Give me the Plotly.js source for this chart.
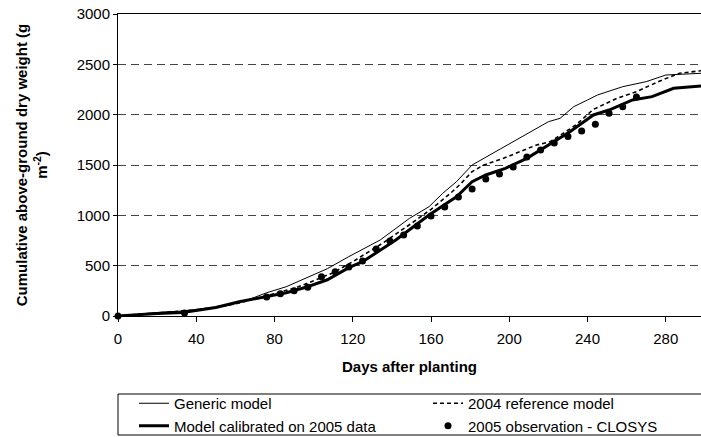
<!DOCTYPE html>
<html>
<head>
<meta charset="utf-8">
<script src="https://cdn.plot.ly/plotly-3.0.1.min.js"></script>
<style>
  html, body { margin: 0; padding: 0; background: #ffffff; }
  #chart { width: 701px; height: 437px; }
</style>
</head>
<body>
<div id="chart"></div>
<script>
// Generic model (thin line)
const genericDays = [0, 10, 20, 33, 45, 55, 65, 76, 86, 96, 107, 118, 134, 149, 159, 166, 173, 181, 190, 198, 210, 220, 226, 233, 240, 245, 258, 270, 280, 290, 298];
const genericVals = [0, 20, 35, 50, 75, 100, 150, 231, 291, 374, 470, 590, 755, 970, 1086, 1219, 1334, 1500, 1599, 1682, 1815, 1930, 1964, 2080, 2146, 2195, 2278, 2328, 2394, 2405, 2411];

// 2004 reference model (dashed line)
const refDays = [0, 20, 40, 60, 76, 90, 100, 110, 120, 135, 150, 160, 170, 175, 181, 187, 197, 207, 214, 221, 234, 243, 249, 255, 265, 277, 287, 298];
const refVals = [0, 30, 60, 120, 205, 275, 350, 430, 540, 720, 920, 1060, 1220, 1310, 1434, 1500, 1566, 1640, 1699, 1732, 1897, 2053, 2106, 2162, 2228, 2335, 2411, 2437];

// Model calibrated on 2005 data (thick line)
const calDays = [0, 10, 20, 33, 50, 62, 76, 86, 96, 107, 118, 125, 142, 159, 173, 181, 188, 198, 209, 221, 231, 243, 251, 263, 273, 284, 290, 298];
const calVals = [0, 15, 25, 35, 85, 142, 192, 231, 285, 360, 480, 539, 755, 1003, 1185, 1334, 1401, 1467, 1566, 1715, 1831, 1997, 2046, 2146, 2179, 2262, 2275, 2285];

// 2005 observation - CLOSYS (dots)
const obsDays = [0, 34, 76, 83, 90, 97, 104, 111, 118, 125, 132, 139, 146, 153, 160, 167, 174, 181, 188, 195, 202, 209, 216, 223, 230, 237, 244, 251, 258, 265];
const obsVals = [0, 30, 189, 220, 252, 285, 390, 440, 487, 546, 666, 745, 805, 894, 993, 1083, 1182, 1262, 1361, 1411, 1480, 1579, 1649, 1718, 1784, 1838, 1905, 2015, 2078, 2175];

const xTicks = [0, 40, 80, 120, 160, 200, 240, 280];
const yTicks = [0, 500, 1000, 1500, 2000, 2500, 3000];

const FONT = 'Arial, "Liberation Sans", sans-serif';

const traces = [
  { x: genericDays, y: genericVals, name: 'Generic model', type: 'scatter', mode: 'lines',
    line: { color: '#000000', width: 1 }, legend: 'legend' },
  { x: refDays, y: refVals, name: '2004 reference model', type: 'scatter', mode: 'lines',
    line: { color: '#000000', width: 1.6, dash: '4px,3px' }, legend: 'legend2' },
  { x: calDays, y: calVals, name: 'Model calibrated on 2005 data', type: 'scatter', mode: 'lines',
    line: { color: '#000000', width: 3 }, legend: 'legend' },
  { x: obsDays, y: obsVals, name: '2005 observation - CLOSYS', type: 'scatter', mode: 'markers',
    marker: { color: '#000000', size: 7 }, cliponaxis: false, legend: 'legend2' }
];

// plot area: x 118..701, y 14..316  (height 302, width 583)
const PW = 583, PH = 302, PB = 316;
const legendTop = -(387 - PB) / PH;

const layout = {
  width: 701, height: 437,
  margin: { l: 118, r: 0, t: 14, b: 121, autoexpand: false },
  paper_bgcolor: '#ffffff', plot_bgcolor: '#ffffff',
  font: { family: FONT, size: 15, color: '#000000' },
  showlegend: true,
  legend: {
    orientation: 'v', x: 16 / PW, xanchor: 'left', y: legendTop, yanchor: 'top',
    borderwidth: 0, bgcolor: 'rgba(0,0,0,0)', tracegroupgap: 0,
    font: { family: FONT, size: 15, color: '#000000' }, traceorder: 'normal'
  },
  legend2: {
    orientation: 'v', x: (428 - 118) / PW, xanchor: 'left', y: legendTop, yanchor: 'top',
    borderwidth: 0, bgcolor: 'rgba(0,0,0,0)', tracegroupgap: 0,
    font: { family: FONT, size: 15, color: '#000000' }, traceorder: 'normal'
  },
  shapes: [
    { type: 'rect', xref: 'paper', yref: 'paper', x0: 0, x1: 1.05,
      y0: -(394 - PB) / PH, y1: -(435 - PB) / PH,
      line: { color: '#000000', width: 1 }, fillcolor: 'rgba(0,0,0,0)', layer: 'below' }
  ],
  xaxis: {
    range: [0, 298], tickvals: xTicks, ticktext: xTicks.map(String),
    showline: true, linecolor: '#000000', linewidth: 1, mirror: true,
    ticks: 'outside', ticklen: 5, tickcolor: '#000000', tickwidth: 1, ticklabelstandoff: 4,
    showgrid: false, zeroline: false,
    tickfont: { family: FONT, size: 15, color: '#000000' },
    title: { text: 'Days after planting', standoff: 15,
      font: { family: FONT, size: 15, color: '#000000', weight: 'bold' } }
  },
  yaxis: {
    range: [0, 3000], tickvals: yTicks, ticktext: yTicks.map(String),
    showline: true, linecolor: '#000000', linewidth: 1,
    ticks: 'outside', ticklen: 4, tickcolor: '#000000', tickwidth: 1,
    showgrid: true, gridcolor: '#444444', gridwidth: 1, griddash: '8px,5px',
    zeroline: false,
    tickfont: { family: FONT, size: 15, color: '#000000' },
    title: { text: 'Cumulative above-ground dry weight (g<br>m<sup>-2</sup>)', standoff: 25,
      font: { family: FONT, size: 15, color: '#000000', weight: 'bold' } }
  }
};

Plotly.newPlot('chart', traces, layout, { displayModeBar: false, staticPlot: true });
</script>
</body>
</html>
